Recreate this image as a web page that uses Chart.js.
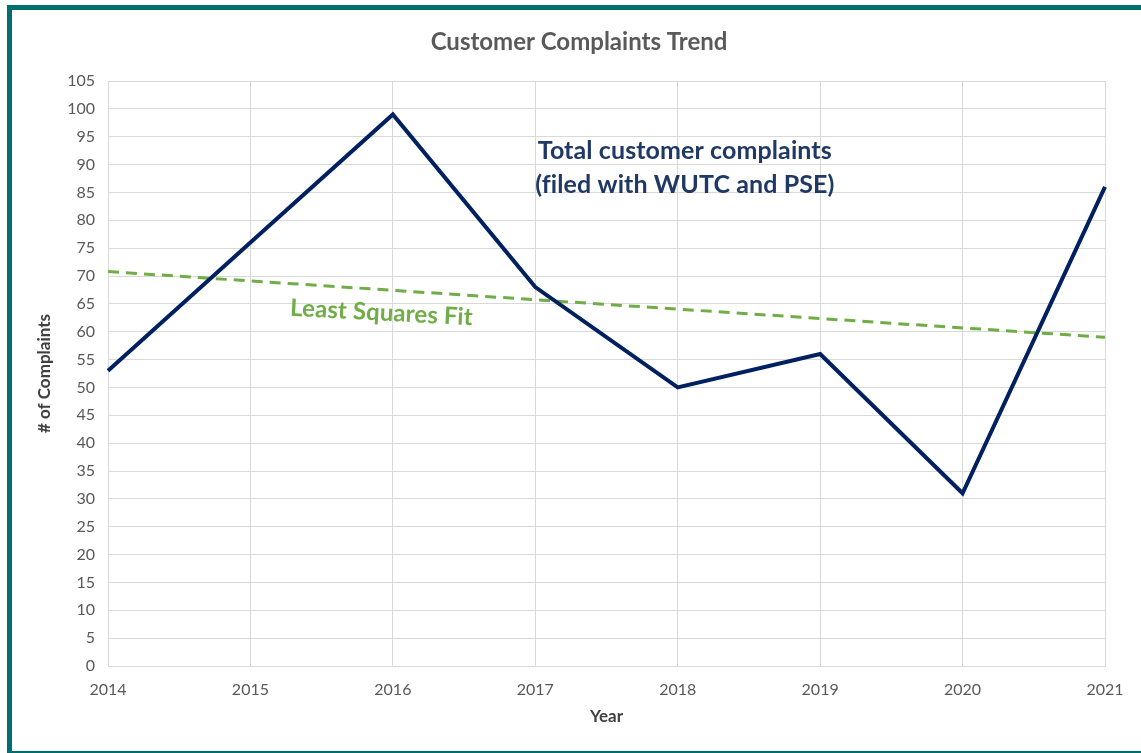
<!DOCTYPE html>
<html>
<head>
<meta charset="utf-8">
<script src="https://cdn.jsdelivr.net/npm/chart.js@4"></script>
<style>
  html, body { margin: 0; padding: 0; background: #fff; }
  #wrap { position: relative; width: 1141px; height: 753px; overflow: hidden; }
  #frame { position: absolute; left: 7px; top: 5px; width: 1200px; height: 741px;
           border: 5px solid #006d6f; pointer-events: none; }
  canvas { position: absolute; left: 0; top: 0; }
</style>
</head>
<body>
<div id="wrap">
  <canvas id="complaints_chart" width="1141" height="753"></canvas>
  <div id="frame"></div>
</div>
<script>
// values
const years = ['2014', '2015', '2016', '2017', '2018', '2019', '2020', '2021'];
const complaints = [53, 76, 99, 68, 50, 56, 31, 86];
// least squares fit end points (straight dashed line between them)
const fitLine = [70.8, null, null, null, null, null, null, 59.0];

const font = "Lato, 'Open Sans', sans-serif";

// draws the title and the two in-plot text notes
const notesPlugin = {
    id: 'notes',
    afterDraw(chart) {
        const ctx = chart.ctx;
        const x = chart.scales.x, y = chart.scales.y;
        ctx.save();
        ctx.textAlign = 'center';
        ctx.textBaseline = 'middle';

        ctx.fillStyle = '#595959';
        ctx.font = 'bold 24px ' + font;
        ctx.fillText('Customer Complaints Trend', 579, 42);

        ctx.fillStyle = '#203864';
        ctx.font = 'bold 25px ' + font;
        ctx.letterSpacing = '0.1px'; // keeps "fi" from turning into a ligature
        ctx.fillText('Total customer complaints', x.getPixelForValue(4.05), y.getPixelForValue(92.4));
        ctx.fillText('(filed with WUTC and PSE)', x.getPixelForValue(4.05), y.getPixelForValue(86.3));

        ctx.fillStyle = '#70ad47';
        ctx.font = 'bold 24px ' + font;
        ctx.translate(x.getPixelForValue(1.92), y.getPixelForValue(63.4));
        ctx.rotate(3 * Math.PI / 180);
        ctx.fillText('Least Squares Fit', 0, 0);
        ctx.restore();
    }
};

const ctxEl = document.getElementById('complaints_chart').getContext('2d');
const complaintsChart = new Chart(ctxEl, {
    type: 'line',
    data: {
        labels: years,
        datasets: [
            {
                label: 'Total customer complaints',
                data: complaints,
                borderColor: '#002060',
                borderWidth: 4,
                pointRadius: 0,
                tension: 0,
                fill: false
            },
            {
                label: 'Least Squares Fit',
                data: fitLine,
                borderColor: '#70ad47',
                borderWidth: 3,
                borderDash: [11, 7],
                pointRadius: 0,
                spanGaps: true,
                fill: false
            }
        ]
    },
    options: {
        responsive: false,
        animation: false,
        layout: {
            padding: { left: 30, right: 36, top: 81, bottom: 22 }
        },
        plugins: {
            legend: { display: false },
            title: { display: false },
            tooltip: { enabled: false }
        },
        scales: {
            x: {
                type: 'category',
                offset: false,
                grid: { color: '#d9d9d9', lineWidth: 1, drawTicks: false },
                border: { color: '#d9d9d9' },
                ticks: { color: '#595959', font: { family: font, size: 16 }, padding: 14, maxRotation: 0 },
                title: { display: true, text: 'Year', color: '#404040',
                         font: { family: font, size: 17, weight: 'bold' }, padding: { top: 4, bottom: 4 } },
                afterFit(scale) { scale.height = 65; }
            },
            y: {
                min: 0,
                max: 105,
                ticks: { stepSize: 5, color: '#595959', font: { family: font, size: 16 }, padding: 13 },
                grid: { color: '#d9d9d9', lineWidth: 1, drawTicks: false },
                border: { color: '#d9d9d9' },
                title: { display: true, text: '# of Complaints', color: '#404040',
                         font: { family: font, size: 17, weight: 'bold' }, padding: { top: 4, bottom: 4 } },
                afterFit(scale) { scale.width = 78; }
            }
        }
    },
    plugins: [notesPlugin]
});
</script>
</body>
</html>
